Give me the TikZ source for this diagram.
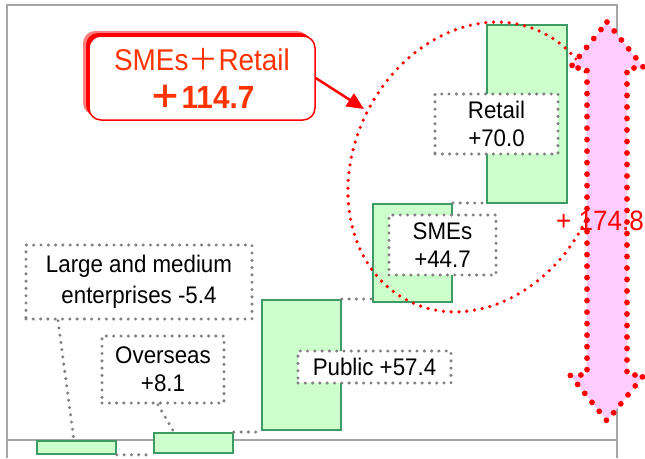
\documentclass[tikz,border=0pt]{standalone}
\usepackage{fontspec}
\setmainfont{Liberation Sans}[FakeStretch=0.93]
\newfontfamily\cjk{Noto Sans CJK JP}
\usetikzlibrary{shapes.geometric,shadows,arrows.meta}

\definecolor{barfill}{RGB}{204,255,204}
\definecolor{barline}{RGB}{60,156,100}
\definecolor{framegray}{RGB}{166,166,166}
\definecolor{dotgray}{RGB}{128,128,128}
\definecolor{pinkfill}{RGB}{255,204,255}
\definecolor{calloutred}{RGB}{255,51,0}

\begin{document}
\begin{tikzpicture}[x=1pt, y=-1pt,
    bar/.style={draw=barline, fill=barfill, line width=1.8pt, inner sep=0pt, anchor=north west},
    valuebox/.style={draw=dotgray, fill=white, line width=3.4pt, dash pattern=on 0pt off 7.3pt, line cap=round,
        align=center, inner sep=0pt, font=\fontsize{24}{28.3}\selectfont},
    leader/.style={draw=dotgray, line width=3.4pt, dash pattern=on 0pt off 7.3pt, line cap=round},
    ring/.style={draw=red, ellipse, line width=3.6pt, dash pattern=on 0pt off 7.8pt, line cap=round, inner sep=0pt},
    pointer/.style={draw=red, line width=2.5pt, -{Triangle[length=17pt, width=15pt]}},
    totalarrow/.style={draw=red, fill=pinkfill, line width=5.8pt, dash pattern=on 0pt off 11.5pt, line cap=round}]

    \useasboundingbox (0,0) rectangle (645,458);

    % cadre et axe
    \draw[draw=framegray, line width=2pt] (7,458) -- (7,5) -- (617,5) -- (617,458);
    \draw[draw=framegray, line width=2pt] (7,440) -- (617,440);

    % barres
    \node[bar, minimum width=79pt, minimum height=13pt] (lm) at (36,440) {};
    \node[bar, minimum width=79pt, minimum height=20pt] (ov) at (153,432) {};
    \node[bar, minimum width=79pt, minimum height=130pt] (pub) at (261,299) {};
    \node[bar, minimum width=79pt, minimum height=98pt] (sme) at (372,203) {};
    \node[bar, minimum width=80pt, minimum height=178pt] (ret) at (486,24) {};

    \draw[leader] (lm.south east) -- (lm.south east -| ov.west);
    \draw[leader] (ov.north east) -- (ov.north east -| pub.west);
    \draw[leader] (pub.north east) -- (pub.north east -| sme.west);
    \draw[leader] (sme.north east) -- (sme.north east -| ret.west);

    % etiquettes
    \node[valuebox, minimum width=226pt, minimum height=74pt] (lmtag) at (139,282) {Large and medium\\[3pt]enterprises -5.4};
    \node[valuebox, minimum width=122pt, minimum height=67pt] (ovtag) at (163,369.5) {Overseas\\+8.1};
    \node[valuebox, minimum width=153pt, minimum height=32pt] (pubtag) at (374.5,367) {Public +57.4};
    \node[valuebox, minimum width=107pt, minimum height=60pt] (smetag) at (442.5,245) {SMEs\\+44.7};
    \node[valuebox, minimum width=123pt, minimum height=60pt] (rettag) at (496.5,124) {Retail\\+70.0};

    \draw[leader] ([xshift=-81pt]lmtag.south) -- ([xshift=-2.5pt]lm.north);
    \draw[leader] ([xshift=-5pt]ovtag.south) -- ([xshift=-19.5pt]ov.north);

    % ellipse autour de SMEs et Retail
    \node[ring, minimum width=244pt, minimum height=300pt, rotate=-26.5] (grp) at (476,167) {};

    % bulle rouge
    \node[draw=red, line width=1.5pt, fill=white, rounded corners=12pt, minimum width=226pt, minimum height=84pt,
        align=center, text=calloutred, font=\fontsize{30}{38}\selectfont,
        general shadow={fill=red, opacity=0.5, shadow xshift=-6pt, shadow yshift=5pt},
        general shadow={fill=red, shadow xshift=-3pt, shadow yshift=3pt}]
        (combo) at (202,78) {SMEs{\cjk ＋}Retail\\{\bfseries\fontsize{32}{38}\selectfont{\cjk ＋}114.7}};

    \coordinate (aim) at (364,109);
    \draw[pointer] (combo.east) -- (aim);

    % double fleche rose
    \draw[totalarrow] (607,22) -- (644,68) -- (627,68) -- (627,375) -- (644,375) -- (607,421)
        -- (570,375) -- (587,375) -- (587,68) -- (570,68) -- cycle;
    \node[text=red, font=\fontsize{28}{30}\selectfont] (sum) at (600,221) {+ 174.8};

\end{tikzpicture}
\end{document}
